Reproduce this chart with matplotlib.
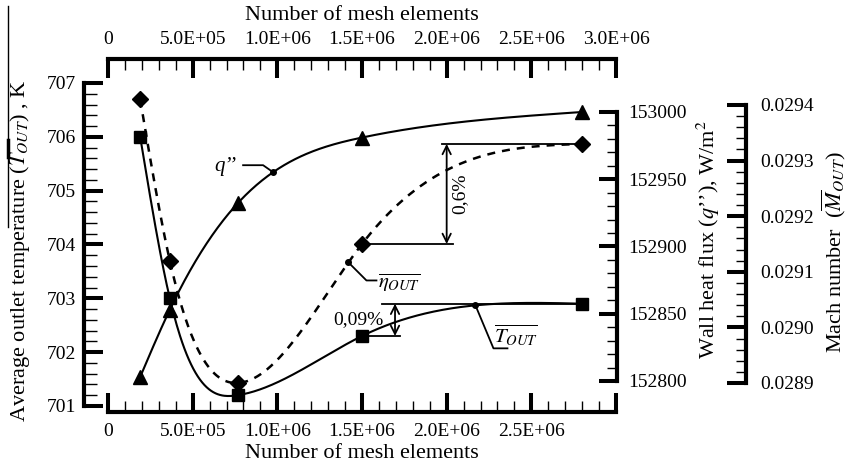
import numpy as np
import matplotlib
matplotlib.use('Agg')
import matplotlib.pyplot as plt
from matplotlib.ticker import FixedLocator, FuncFormatter
from matplotlib.lines import Line2D

plt.rcParams['font.family'] = 'Liberation Serif'
plt.rcParams['mathtext.fontset'] = 'stix'

# grid study data
mesh = [1.9e5, 3.65e5, 7.65e5, 1.5e6, 2.8e6]
t_out = [706.0, 703.0, 701.2, 702.3, 702.9]
q_wall = [152803, 152853, 152932, 152981, 153000]
mach_out = [0.02941, 0.02912, 0.02890, 0.02915, 0.02933]

x_ticks = [0, 5e5, 1e6, 1.5e6, 2e6, 2.5e6, 3e6]
t_ticks = [701, 702, 703, 704, 705, 706, 707]
q_ticks = [152800, 152850, 152900, 152950, 153000]
m_ticks = [0.0289, 0.0290, 0.0291, 0.0292, 0.0293, 0.0294]

W, H = 848, 468


def spline(xs, ys, xx):
    # natural cubic spline, used only to draw the smooth connecting lines
    xs = np.asarray(xs, float) / 1e6
    ys = np.asarray(ys, float)
    xx = np.atleast_1d(np.asarray(xx, float)) / 1e6
    h = np.diff(xs)
    m = len(xs)
    A = np.zeros((m, m))
    r = np.zeros(m)
    A[0, 0] = A[-1, -1] = 1
    for i in range(1, m - 1):
        A[i, i - 1] = h[i - 1]
        A[i, i] = 2 * (h[i - 1] + h[i])
        A[i, i + 1] = h[i]
        r[i] = 3 * ((ys[i + 1] - ys[i]) / h[i] - (ys[i] - ys[i - 1]) / h[i - 1])
    c = np.linalg.solve(A, r)
    b = (ys[1:] - ys[:-1]) / h - h * (2 * c[:-1] + c[1:]) / 3
    d = (c[1:] - c[:-1]) / (3 * h)
    k = np.clip(np.searchsorted(xs, xx, side='right') - 1, 0, m - 2)
    dx = xx - xs[k]
    return ys[k] + b[k] * dx + c[k] * dx ** 2 + d[k] * dx ** 3


def sci(v, pos):
    return '0' if v == 0 else '%.1E' % v


fig = plt.figure(figsize=(W / 100, H / 100), dpi=100)
ax = fig.add_axes([108 / W, 1 - 412 / H, 508 / W, 353 / H])
ax2 = ax.twinx()
ax3 = ax.twinx()

ax.set_xlim(0, 3e6)
ax.set_ylim(700.8885, 707.4458)
ax2.set_ylim(152776.95, 153039.4)
ax3.set_ylim(0.02884784, 0.02948273)

for a in (ax, ax2, ax3):
    for s in a.spines.values():
        s.set_visible(False)
        s.set_linewidth(3)

ax.spines['bottom'].set_visible(True)
ax.spines['left'].set_visible(True)
ax.spines['left'].set_position(('axes', -24 / 508))
ax.spines['left'].set_bounds(701, 707)
ax2.spines['right'].set_visible(True)
ax2.spines['right'].set_position(('axes', 1.002))
ax2.spines['right'].set_bounds(152800, 153000)
ax3.spines['right'].set_visible(True)
ax3.spines['right'].set_position(('axes', (746 - 108) / 508))
ax3.spines['right'].set_bounds(0.0289, 0.0294)

# bottom x axis
ax.xaxis.set_major_locator(FixedLocator(x_ticks))
ax.xaxis.set_minor_locator(FixedLocator(np.arange(0, 3e6 + 1, 1e5)))
ax.xaxis.set_major_formatter(FuncFormatter(lambda v, p: '' if v >= 3e6 else sci(v, p)))
ax.tick_params(axis='x', which='major', direction='in', length=14, width=2.9,
               labelsize=14, pad=8, top=False)
ax.tick_params(axis='x', which='minor', direction='in', length=8, width=1, top=False)

# top x axis
sec = ax.secondary_xaxis('top')
sec.spines['top'].set_linewidth(3)
sec.xaxis.set_major_locator(FixedLocator(x_ticks))
sec.xaxis.set_minor_locator(FixedLocator(np.arange(0, 3e6 + 1, 1e5)))
sec.xaxis.set_major_formatter(FuncFormatter(sci))
sec.tick_params(axis='x', which='major', direction='in', length=14, width=2.9,
                labelsize=14, pad=8)
sec.tick_params(axis='x', which='minor', direction='in', length=8, width=1)

# temperature axis
ax.yaxis.set_major_locator(FixedLocator(t_ticks))
ax.yaxis.set_minor_locator(FixedLocator(np.round(np.arange(701, 707.01, 0.2), 1)))
ax.tick_params(axis='y', which='major', direction='in', length=14, width=2.9,
               labelsize=14, pad=6)
ax.tick_params(axis='y', which='minor', direction='in', length=9, width=1)

# heat flux axis
ax2.yaxis.set_major_locator(FixedLocator(q_ticks))
ax2.yaxis.set_minor_locator(FixedLocator(np.arange(152800, 153001, 10)))
ax2.yaxis.set_major_formatter(FuncFormatter(lambda v, p: '%d' % round(v)))
ax2.tick_params(axis='y', which='major', direction='in', length=13, width=2.9,
                labelsize=14, pad=8)
ax2.tick_params(axis='y', which='minor', direction='in', length=7, width=1)

# Mach number axis
ax3.yaxis.set_major_locator(FixedLocator(m_ticks))
ax3.yaxis.set_minor_locator(FixedLocator(np.round(np.arange(0.0289, 0.029401, 0.00002), 5)))
ax3.yaxis.set_major_formatter(FuncFormatter(lambda v, p: '%.4f' % v))
ax3.tick_params(axis='y', which='major', direction='in', length=14, width=2.9,
                labelsize=14, pad=10)
ax3.tick_params(axis='y', which='minor', direction='in', length=7, width=1)

# curves
xx = np.linspace(mesh[0], mesh[-1], 400)
ax.plot(xx, spline(mesh, t_out, xx), 'k-', lw=1.5)
ax.plot(mesh, t_out, 'ks', ms=9)
ax2.plot(xx, spline(mesh, q_wall, xx), 'k-', lw=1.5)
ax2.plot(mesh, q_wall, 'k^', ms=10)
ax3.plot(xx, spline(mesh, mach_out, xx), 'k-', lw=1.8, dashes=(3.2, 2.8))
ax3.plot(mesh, mach_out, 'kD', ms=8)


def leader(a, x, y, offs, text, toff, ha):
    # dot on the curve, a bent leader line and the curve name
    px, py = a.transData.transform((x, y))
    pts = [(0, 0)] + offs
    fx = [(px + dx) / W for dx, dy in pts]
    fy = [(py - dy) / H for dx, dy in pts]
    fig.add_artist(Line2D(fx, fy, color='k', lw=1.3))
    a.plot([x], [y], 'ko', ms=4)
    a.annotate(text, xy=(x, y), xytext=(toff[0], -toff[1]), textcoords='offset pixels',
               ha=ha, va='center', fontsize=15)


qx = 9.75e5
leader(ax2, qx, spline(mesh, q_wall, qx)[0], [(-10, -7), (-30, -7)], 'q’’', (-37, -6), 'right')
ax2.texts[-1].set_fontstyle('italic')
ex = 1.42e6
leader(ax3, ex, spline(mesh, mach_out, ex)[0], [(18, 18), (28, 18)],
       r'$\overline{\eta_{OUT}}$', (30, 20), 'left')
tx = 2.17e6
leader(ax, tx, spline(mesh, t_out, tx)[0], [(18, 43), (32, 43)],
       r'$\overline{T_{OUT}}$', (41, 30), 'center')

# 0,6 % spread of the Mach number
ax3.plot([mesh[3], 2.04e6], [mach_out[3]] * 2, 'k-', lw=1.3)
ax3.plot([1.97e6, mesh[4]], [mach_out[4]] * 2, 'k-', lw=1.3)
ax3.annotate('', xy=(2.0e6, mach_out[4]), xytext=(2.0e6, mach_out[3]),
             arrowprops=dict(arrowstyle='<->,head_length=0.5,head_width=0.25',
                             mutation_scale=12, lw=1.3, shrinkA=0, shrinkB=0))
ax3.text(2.08e6, (mach_out[3] + mach_out[4]) / 2, '0,6%', rotation=90,
         ha='center', va='center', fontsize=14)

# 0,09 % spread of the outlet temperature
ax.plot([mesh[3], 1.725e6], [t_out[3]] * 2, 'k-', lw=1.3)
ax.plot([1.62e6, mesh[4]], [t_out[4]] * 2, 'k-', lw=1.3)
ax.annotate('', xy=(1.695e6, t_out[4]), xytext=(1.695e6, t_out[3]),
            arrowprops=dict(arrowstyle='<->,head_length=0.5,head_width=0.25',
                            mutation_scale=12, lw=1.3, shrinkA=0, shrinkB=0))
ax.text(1.48e6, (t_out[3] + t_out[4]) / 2, '0,09%', ha='center', va='center',
        fontsize=14)

# axis titles
fig.text(362 / W, 1 - 16 / H, 'Number of mesh elements', ha='center', va='center', fontsize=16)
fig.text(362 / W, 1 - 454 / H, 'Number of mesh elements', ha='center', va='center', fontsize=16)
fig.text(20 / W, 1 - 251 / H, r'Average outlet temperature ($T_{OUT}$) , K', rotation=90,
         ha='center', va='center', fontsize=16)
fig.add_artist(Line2D([7.5 / W] * 2, [1 - 6 / H, 1 - 227 / H], color='k', lw=1))
fig.add_artist(Line2D([7.5 / W] * 2, [1 - 140 / H, 1 - 157 / H], color='k', lw=2.5))
fig.text(708 / W, 1 - 240 / H, 'Wall heat flux ($q$’’), W/m$^2$', rotation=90,
         ha='center', va='center', fontsize=16)
fig.text(834 / W, 1 - 252 / H, r'Mach number  ($\overline{M}_{OUT}$)', rotation=90,
         ha='center', va='center', fontsize=16)

fig.savefig('out.png', dpi=100)
